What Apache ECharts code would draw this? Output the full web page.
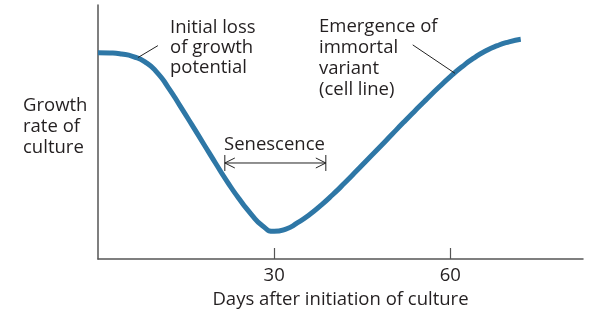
<!DOCTYPE html>
<html>
<head>
<meta charset="utf-8">
<script src="https://cdn.jsdelivr.net/npm/echarts@6/dist/echarts.min.js"></script>
<style>
  html, body { margin: 0; padding: 0; background: #fff; }
  #chart { width: 616px; height: 330px; }
</style>
</head>
<body>
<div id="chart"></div>
<script>
// Growth rate of a cell culture over time (relative units)
const days = [0, 2, 4, 6, 8, 10, 12, 14, 16, 18, 20, 22, 24, 26, 28, 30, 32, 34, 36, 38, 40, 42, 44, 46, 48, 50, 52, 54, 56, 58, 60, 62, 64, 66, 68, 70, 72];
const growthRate = [81.2, 81.1, 80.7, 79.7, 77.6, 73.6, 67.4, 60.2, 52.8, 45.3, 37.8, 30.5, 23.8, 17.9, 13.1, 10.9, 11.8, 14.3, 17.4, 21.2, 25.4, 29.9, 34.6, 39.4, 44.1, 48.9, 53.7, 58.4, 63.0, 67.5, 71.8, 75.7, 79.1, 81.9, 84.0, 85.5, 86.5];
const dayTicks = [30, 60];
const senescenceSpan = [21.6, 38.8];

const FONT = '"Open Sans", "Liberation Sans", Arial, sans-serif';
const TEXT = '#231f20';
const AXIS = '#555';
const FS = 18.5;

const chart = echarts.init(document.getElementById('chart'), null, { renderer: 'canvas' });

chart.setOption({
  animation: false,
  grid: { left: 98, right: 33, top: 5, bottom: 71 },
  xAxis: {
    type: 'value',
    min: 0,
    max: 82.6,
    interval: 30,
    name: 'Days after initiation of culture',
    nameLocation: 'middle',
    nameGap: 28,
    nameTextStyle: { fontFamily: FONT, fontSize: FS, color: TEXT },
    axisLine: { show: true, lineStyle: { color: AXIS, width: 1.5 } },
    axisTick: { show: true, inside: true, length: 11, customValues: dayTicks, lineStyle: { color: AXIS, width: 1.2 } },
    axisLabel: { show: true, customValues: dayTicks, margin: 7, fontFamily: FONT, fontSize: FS, color: TEXT },
    splitLine: { show: false }
  },
  yAxis: {
    type: 'value',
    min: 0,
    max: 100,
    axisLine: { show: true, lineStyle: { color: AXIS, width: 1.5 } },
    axisTick: { show: false },
    axisLabel: { show: false },
    splitLine: { show: false }
  },
  series: [{
    type: 'line',
    data: days.map((d, i) => [d, growthRate[i]]),
    smooth: 0.6,
    showSymbol: false,
    lineStyle: { color: '#2e77a6', width: 5, cap: 'butt' }
  }]
});

// Annotations anchored in data space
const px = (x, y) => chart.convertToPixel({ gridIndex: 0 }, [x, y]);
const thin = { stroke: '#222', lineWidth: 1 };
const graphics = [];

function line(a, b, style) {
  graphics.push({ type: 'line', shape: { x1: a[0], y1: a[1], x2: b[0], y2: b[1] }, style: Object.assign({}, thin, style || {}), z: 10 });
}
function text(str, x, y, lh) {
  graphics.push({
    type: 'text', x: x, y: y, z: 10,
    style: { text: str, fill: TEXT, font: FS + 'px ' + FONT, lineHeight: lh, textVerticalAlign: 'top' }
  });
}

// leader lines
line(px(6.8, 79.3), px(10.2, 84.0));
line(px(53.6, 84.3), px(60.8, 73.1));

// senescence interval arrow
const level = 37.8;
const a = px(senescenceSpan[0], level);
const b = px(senescenceSpan[1], level);
line(a, b);
line([a[0], a[1] - 8], [a[0], a[1] + 8]);
line([b[0], b[1] - 8], [b[0], b[1] + 8]);
line([a[0], a[1]], [a[0] + 10, a[1] - 5]);
line([a[0], a[1]], [a[0] + 10, a[1] + 5]);
line([b[0], b[1]], [b[0] - 10, b[1] - 5]);
line([b[0], b[1]], [b[0] - 10, b[1] + 5]);

// labels
text('Initial loss\nof growth\npotential', 170, 17.5, 20);
text('Emergence of\nimmortal\nvariant\n(cell line)', 319, 16, 21);
text('Growth\nrate of\nculture', 23, 95, 21);
text('Senescence', 224, 134.5, 20);

chart.setOption({ graphic: graphics });
</script>
</body>
</html>
